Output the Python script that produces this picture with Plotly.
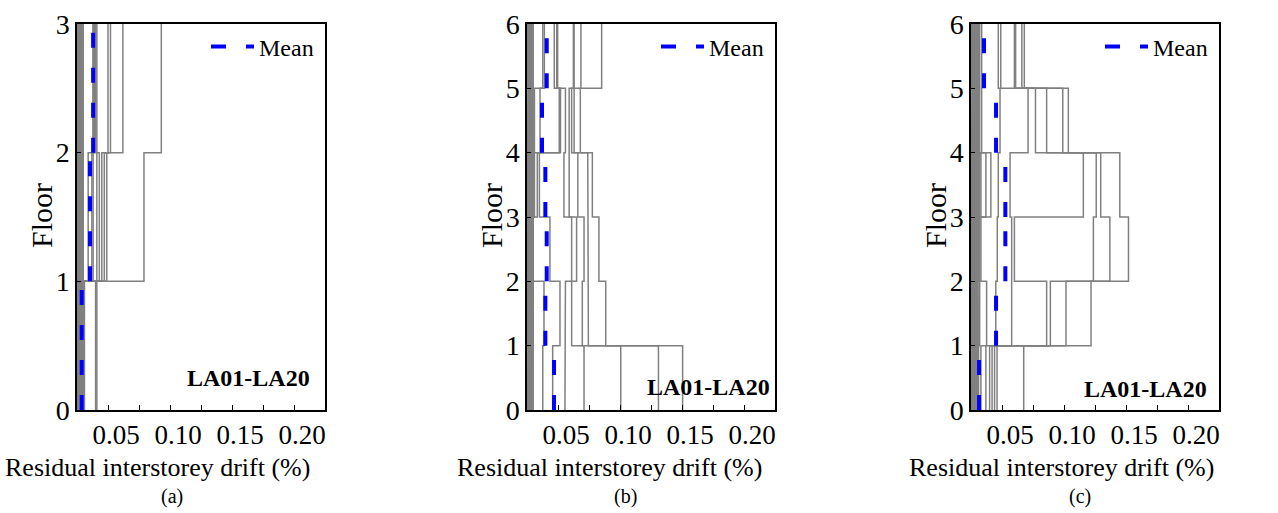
import plotly.graph_objects as go

# ---------------- data (residual interstorey drift, %) ----------------
# Panel (a): 3-storey frame, 20 records (LA01-LA20), storey 1..3
a_s1 = [0.005, 0.015, 0.016, 0.006, 0.004, 0.003, 0.002, 0.001, 0.003, 0.0005,
        0.001, 0.0015, 0.002, 0.0025, 0.003, 0.0035, 0.004, 0.0045, 0.005, 0.002]
a_s2 = [0.054, 0.024, 0.022, 0.020, 0.018, 0.016, 0.013, 0.012, 0.009, 0.001,
        0.002, 0.003, 0.0045, 0.005, 0.0035, 0.0025, 0.0015, 0.004, 0.0005, 0.003]
a_s3 = [0.068, 0.037, 0.027, 0.025, 0.016, 0.015, 0.014, 0.013, 0.013, 0.002,
        0.001, 0.004, 0.003, 0.005, 0.0005, 0.0035, 0.0025, 0.0045, 0.0015, 0.003]
mean_a = [0.0038, 0.0105, 0.013]

# Panel (b): 6-storey frame, storey 1..6
b_s1 = [0.1255, 0.106, 0.0756, 0.046, 0.0306, 0.0207, 0.0127, 0.004, 0.004, 0.0005,
        0.001, 0.0015, 0.002, 0.0025, 0.003, 0.0035, 0.004, 0.0045, 0.005, 0.002]
b_s2 = [0.0635, 0.0495, 0.0446, 0.036, 0.031, 0.0266, 0.0137, 0.005, 0.004, 0.001,
        0.002, 0.003, 0.0045, 0.005, 0.0035, 0.0025, 0.0015, 0.004, 0.0005, 0.003]
b_s3 = [0.058, 0.049, 0.046, 0.040, 0.036, 0.0185, 0.005, 0.004, 0.005, 0.002,
        0.001, 0.004, 0.003, 0.005, 0.0005, 0.0035, 0.0025, 0.0045, 0.0015, 0.003]
b_s4 = [0.0527, 0.049, 0.041, 0.034, 0.0298, 0.010, 0.0083, 0.006, 0.005, 0.0015,
        0.003, 0.001, 0.0045, 0.002, 0.004, 0.0005, 0.005, 0.0035, 0.0025, 0.003]
b_s5 = [0.043, 0.038, 0.036, 0.034, 0.031, 0.027, 0.026, 0.0105, 0.006, 0.003,
        0.0045, 0.002, 0.001, 0.0035, 0.005, 0.0015, 0.0005, 0.004, 0.0025, 0.002]
b_s6 = [0.0602, 0.0435, 0.038, 0.0374, 0.0247, 0.024, 0.022, 0.014, 0.0127, 0.0025,
        0.004, 0.005, 0.0015, 0.003, 0.002, 0.0045, 0.001, 0.0005, 0.0035, 0.003]
mean_b = [0.0218, 0.0148, 0.0159, 0.0148, 0.0121, 0.0159]

# Panel (c): 6-storey frame, storey 1..6
c_s1 = [0.021, 0.019, 0.0425, 0.017, 0.015, 0.012, 0.008, 0.006, 0.004, 0.0005,
        0.001, 0.002, 0.003, 0.0035, 0.005, 0.006, 0.0045, 0.0025, 0.0015, 0.004]
c_s2 = [0.0968, 0.0766, 0.064, 0.061, 0.0328, 0.020, 0.0126, 0.007, 0.005, 0.001,
        0.002, 0.003, 0.0045, 0.006, 0.0035, 0.0025, 0.0015, 0.004, 0.0005, 0.005]
c_s3 = [0.127, 0.112, 0.0987, 0.035, 0.0328, 0.0212, 0.008, 0.006, 0.005, 0.002,
        0.001, 0.004, 0.003, 0.0055, 0.0005, 0.0035, 0.0025, 0.0045, 0.0015, 0.007]
c_s4 = [0.120, 0.1046, 0.101, 0.0906, 0.0315, 0.022, 0.016, 0.012, 0.008, 0.0015,
        0.003, 0.001, 0.0045, 0.002, 0.006, 0.0005, 0.005, 0.0035, 0.0025, 0.007]
c_s5 = [0.0785, 0.074, 0.061, 0.052, 0.046, 0.0234, 0.0086, 0.006, 0.005, 0.003,
        0.0045, 0.002, 0.001, 0.0035, 0.005, 0.0015, 0.0005, 0.004, 0.0025, 0.007]
c_s6 = [0.043, 0.041, 0.036, 0.035, 0.024, 0.022, 0.0086, 0.007, 0.006, 0.0025,
        0.004, 0.005, 0.0015, 0.003, 0.002, 0.0045, 0.001, 0.0005, 0.0035, 0.006]
mean_c = [0.0065, 0.0202, 0.0277, 0.0277, 0.0202, 0.0105]

x_tick_vals = [0.05, 0.10, 0.15, 0.20]
x_tick_text = ["0.05", "0.10", "0.15", "0.20"]
record_label = "LA01-LA20"
panel_captions = ["(a)", "(b)", "(c)"]

# ---------------- figure ----------------
W, H = 1278, 513
FONT = '"Liberation Serif", "Times New Roman", serif'
GREY = "#808080"
BLUE = "#0000FF"

panels = [
    dict(stories=[a_s1, a_s2, a_s3], mean=mean_a, ax="", leg="legend",
         left=77, lab_right=312, lab_y=378, title_x=157, cap_x=172),
    dict(stories=[b_s1, b_s2, b_s3, b_s4, b_s5, b_s6], mean=mean_b, ax="2", leg="legend2",
         left=527, lab_right=772, lab_y=387, title_x=609, cap_x=625),
    dict(stories=[c_s1, c_s2, c_s3, c_s4, c_s5, c_s6], mean=mean_c, ax="3", leg="legend3",
         left=971, lab_right=1209, lab_y=389, title_x=1061, cap_x=1080),
]
PW = 248
TOP, BOT = 24, 410


def step_profile(values):
    xs, ys = [], []
    for i, v in enumerate(values):
        xs += [v, v]
        ys += [i, i + 1]
    return xs, ys


def storey_segments(values):
    xs, ys = [], []
    for i, v in enumerate(values):
        xs += [v, v, None]
        ys += [i, i + 1, None]
    return xs, ys


fig = go.Figure()
layout = dict(width=W, height=H, margin=dict(l=0, r=0, t=0, b=0, autoexpand=False),
              autosize=False, paper_bgcolor="white", plot_bgcolor="white",
              font=dict(family=FONT, color="black", size=24), annotations=[])

for p_i, p in enumerate(panels):
    n = len(p["stories"])
    nrec = len(p["stories"][0])
    xa = "x" + p["ax"]
    ya = "y" + p["ax"]
    for r in range(nrec):
        vals = [p["stories"][s][r] for s in range(n)]
        xs, ys = step_profile(vals)
        fig.add_trace(go.Scatter(x=xs, y=ys, mode="lines", xaxis=xa, yaxis=ya,
                                 line=dict(color=GREY, width=1.5), showlegend=False,
                                 hoverinfo="skip"))
    mx, my = storey_segments(p["mean"])
    fig.add_trace(go.Scatter(x=mx, y=my, mode="lines", xaxis=xa, yaxis=ya, name="Mean",
                             line=dict(color=BLUE, width=4, dash="15px,20px"),
                             connectgaps=False, showlegend=True, legend=p["leg"]))

    left = p["left"]
    xdom = [left / W, (left + PW) / W]
    ydom = [1 - BOT / H, 1 - TOP / H]
    layout["xaxis" + p["ax"]] = dict(
        domain=xdom, anchor=ya, range=[0, 0.2], showgrid=False, zeroline=False,
        showline=True, mirror=True, linecolor="black", linewidth=1.5, automargin=False,
        tickvals=x_tick_vals, ticktext=x_tick_text, ticks="inside", ticklen=5,
        tickcolor="black", tickwidth=1, ticklabelshift=-23, ticklabelstandoff=0,
        tickfont=dict(size=27, family=FONT),
        minor=dict(dtick=0.025, tick0=0, ticks="inside", ticklen=5, tickcolor="black"),
    )
    layout["yaxis" + p["ax"]] = dict(
        domain=ydom, anchor=xa, range=[0, n], showgrid=False, zeroline=False,
        showline=True, mirror=True, linecolor="black", linewidth=1.5, automargin=False,
        tickvals=list(range(n + 1)), ticks="inside", ticklen=4, tickcolor="black",
        tickfont=dict(size=28, family=FONT),
    )
    layout[p["leg"]] = dict(
        x=(left + PW - 6) / W, xanchor="right", y=1 - 47 / H, yanchor="middle",
        bgcolor="rgba(0,0,0,0)", borderwidth=0, font=dict(size=24, family=FONT),
        itemwidth=43,
    )
    # y title
    layout["annotations"].append(dict(
        text="Floor", x=(left - 36) / W, y=1 - 216 / H, xref="paper", yref="paper",
        textangle=-90, showarrow=False, font=dict(size=30, family=FONT),
        xanchor="center", yanchor="middle"))
    # x title
    layout["annotations"].append(dict(
        text="Residual interstorey drift (%)", x=p["title_x"] / W, y=1 - 467 / H,
        xref="paper", yref="paper", showarrow=False, font=dict(size=26, family=FONT),
        xanchor="center", yanchor="middle"))
    # caption
    layout["annotations"].append(dict(
        text=panel_captions[p_i], x=p["cap_x"] / W, y=1 - 496 / H,
        xref="paper", yref="paper", showarrow=False, font=dict(size=20, family=FONT),
        xanchor="center", yanchor="middle"))
    # record label
    layout["annotations"].append(dict(
        text="<b>" + record_label + "</b>", x=p["lab_right"] / W, y=1 - p["lab_y"] / H,
        xref="paper", yref="paper", showarrow=False, font=dict(size=24, family=FONT),
        xanchor="right", yanchor="middle"))

fig.update_layout(**layout)
fig.write_html("out.html")
